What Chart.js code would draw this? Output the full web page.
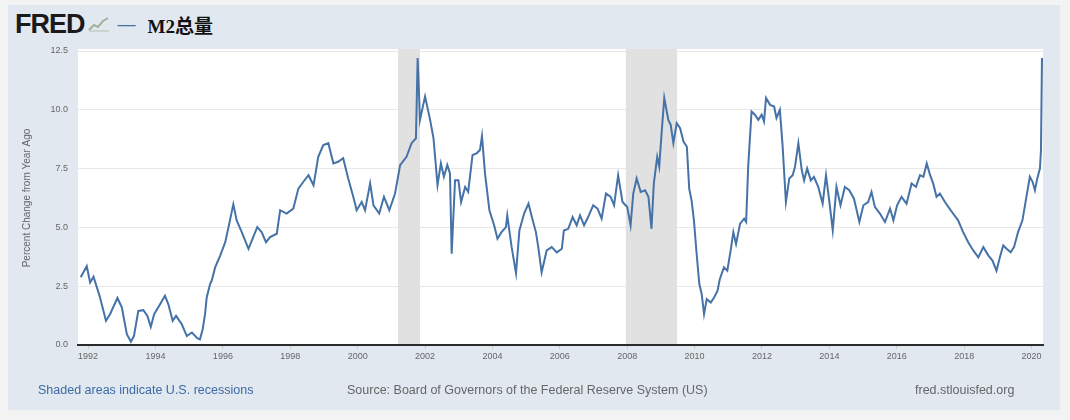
<!DOCTYPE html>
<html>
<head>
<meta charset="utf-8">
<script src="https://cdn.jsdelivr.net/npm/chart.js@4.4.1/dist/chart.umd.min.js"></script>
<style>
  html, body { margin: 0; padding: 0; background: #f3f3f3; width: 1070px; height: 420px; overflow: hidden; }
  #panel { position: absolute; left: 8px; top: 5px; width: 1052px; height: 405px; background: #e1e8f0; }
  #chartWrap { position: absolute; left: 0; top: 0; width: 1070px; height: 420px; }
  .head { position: absolute; top: 9px; left: 15px; height: 30px; display: flex; align-items: center; }
  .logo { font-family: "Liberation Sans", Arial, sans-serif; font-weight: 900; font-size: 27px; color: #1a1a1a; letter-spacing: -1px; }
  .dash { font-family: "Liberation Sans", Arial, sans-serif; color: #4572a7; font-size: 18px; margin-left: 8px; }
  .title { font-family: "Liberation Serif", "Noto Sans CJK SC", serif; font-weight: bold; font-size: 19px; color: #111; margin-left: 12px; }
  .foot { position: absolute; top: 383px; font-family: "Liberation Sans", Arial, sans-serif; font-size: 12.5px; color: #666; white-space: nowrap; }
</style>
</head>
<body>
<div id="panel"></div>
<div class="head">
  <span class="logo">FRED</span>
  <svg width="22" height="16" viewBox="0 0 22 16" style="margin-left:3px">
    <polyline points="1,14 6,9 10,11 15,5 20,2" fill="none" stroke="#9fb59a" stroke-width="2"/>
    <polyline points="1,15 21,15" stroke="#b5c2b0" stroke-width="1"/>
  </svg>
  <span class="dash">—</span>
  <span class="title">M2总量</span>
</div>
<div id="chartWrap"><canvas id="chart" width="1070" height="420"></canvas></div>
<div class="foot" style="left:38px;color:#3b6aa6;">Shaded areas indicate U.S. recessions</div>
<div class="foot" style="left:347px;">Source: Board of Governors of the Federal Reserve System (US)</div>
<div class="foot" style="left:915px;">fred.stlouisfed.org</div>
<script>
// decimal years and % change from year ago
const dates = [
  1991.78, 1991.96, 1992.06, 1992.16, 1992.34, 1992.53, 1992.65, 1992.87, 1993.00, 1993.15,
  1993.27, 1993.36, 1993.49, 1993.64, 1993.76, 1993.86, 1993.96, 1994.14, 1994.28, 1994.38,
  1994.51, 1994.61, 1994.78, 1994.93, 1995.08, 1995.24, 1995.32, 1995.40, 1995.47, 1995.52,
  1995.62, 1995.67, 1995.77, 1995.92, 1996.07, 1996.21, 1996.31, 1996.41, 1996.56, 1996.76,
  1996.90, 1997.02, 1997.15, 1997.28, 1997.40, 1997.60, 1997.70, 1997.89, 1998.09, 1998.24,
  1998.39, 1998.54, 1998.69, 1998.83, 1998.98, 1999.13, 1999.28, 1999.42, 1999.57, 1999.72,
  1999.87, 1999.97, 2000.12, 2000.22, 2000.37, 2000.47, 2000.64, 2000.78, 2000.94, 2001.11,
  2001.26, 2001.45, 2001.60, 2001.73, 2001.78, 2001.85, 2002.00, 2002.15, 2002.25, 2002.37,
  2002.47, 2002.56, 2002.66, 2002.74, 2002.79, 2002.89, 2002.99, 2003.07, 2003.19, 2003.28,
  2003.41, 2003.53, 2003.63, 2003.69, 2003.78, 2003.91, 2004.05, 2004.15, 2004.27, 2004.40,
  2004.44, 2004.57, 2004.70, 2004.80, 2004.94, 2005.07, 2005.17, 2005.29, 2005.36, 2005.46,
  2005.61, 2005.76, 2005.91, 2006.06, 2006.12, 2006.25, 2006.38, 2006.50, 2006.60, 2006.72,
  2006.84, 2006.99, 2007.12, 2007.24, 2007.37, 2007.51, 2007.61, 2007.73, 2007.86, 2008.00,
  2008.10, 2008.18, 2008.28, 2008.40, 2008.53, 2008.63, 2008.72, 2008.79, 2008.89, 2008.95,
  2009.02, 2009.10, 2009.22, 2009.29, 2009.37, 2009.47, 2009.57, 2009.67, 2009.77, 2009.84,
  2009.91, 2009.98, 2010.06, 2010.14, 2010.21, 2010.28, 2010.36, 2010.48, 2010.58, 2010.68,
  2010.75, 2010.87, 2010.97, 2011.07, 2011.15, 2011.23, 2011.35, 2011.47, 2011.53, 2011.59,
  2011.69, 2011.79, 2011.89, 2011.99, 2012.06, 2012.12, 2012.24, 2012.36, 2012.43, 2012.53,
  2012.61, 2012.71, 2012.81, 2012.91, 2012.98, 2013.08, 2013.18, 2013.25, 2013.34, 2013.45,
  2013.54, 2013.67, 2013.80, 2013.90, 2014.00, 2014.10, 2014.21, 2014.33, 2014.46, 2014.59,
  2014.73, 2014.89, 2015.01, 2015.15, 2015.25, 2015.35, 2015.50, 2015.65, 2015.80, 2015.90,
  2016.01, 2016.14, 2016.29, 2016.44, 2016.57, 2016.69, 2016.79, 2016.89, 2016.99, 2017.08,
  2017.18, 2017.28, 2017.43, 2017.53, 2017.67, 2017.82, 2017.97, 2018.12, 2018.27, 2018.42,
  2018.57, 2018.72, 2018.84, 2018.96, 2019.06, 2019.16, 2019.26, 2019.38, 2019.48, 2019.60,
  2019.73, 2019.83, 2019.95, 2020.03, 2020.10, 2020.17, 2020.25, 2020.28, 2020.31
];
const values = [
  2.88, 3.35, 2.66, 2.90, 2.09, 1.03, 1.31, 2.00, 1.60, 0.46,
  0.14, 0.38, 1.45, 1.48, 1.24, 0.77, 1.31, 1.74, 2.09, 1.74,
  1.03, 1.24, 0.88, 0.38, 0.53, 0.29, 0.24, 0.67, 1.31, 2.02,
  2.59, 2.74, 3.30, 3.80, 4.37, 5.30, 5.98, 5.30, 4.80, 4.09,
  4.59, 5.01, 4.80, 4.37, 4.59, 4.73, 5.73, 5.59, 5.80, 6.65,
  6.94, 7.22, 6.79, 8.00, 8.50, 8.58, 7.72, 7.79, 7.94, 7.08,
  6.30, 5.73, 6.08, 5.73, 6.87, 5.94, 5.59, 6.30, 5.73, 6.44,
  7.65, 8.00, 8.58, 8.79, 12.20, 9.57, 10.57, 9.57, 8.80, 6.80,
  7.72, 7.15, 7.65, 7.29, 3.88, 7.00, 7.00, 6.08, 6.72, 6.51,
  8.08, 8.15, 8.29, 8.89, 7.29, 5.73, 5.09, 4.52, 4.80, 5.01,
  5.51, 4.16, 3.05, 4.87, 5.59, 6.01, 5.44, 4.80, 4.16, 3.09,
  4.02, 4.16, 3.94, 4.09, 4.87, 4.94, 5.44, 5.09, 5.51, 5.09,
  5.44, 5.94, 5.80, 5.37, 6.44, 6.30, 5.94, 7.22, 6.08, 5.87,
  5.09, 6.44, 7.08, 6.51, 6.58, 6.30, 4.94, 6.87, 8.00, 7.58,
  9.00, 10.50, 9.57, 9.36, 8.58, 9.43, 9.22, 8.65, 8.43, 6.65,
  6.15, 5.30, 3.88, 2.59, 2.17, 1.31, 1.95, 1.81, 2.02, 2.31,
  2.81, 3.30, 3.16, 4.02, 4.80, 4.30, 5.16, 5.37, 5.23, 7.58,
  9.93, 9.79, 9.57, 9.79, 9.50, 10.50, 10.21, 10.14, 9.65, 10.00,
  8.50, 6.08, 7.08, 7.22, 7.58, 8.58, 7.44, 7.00, 7.51, 7.00,
  7.15, 6.72, 6.01, 7.22, 6.08, 4.87, 6.72, 5.94, 6.72, 6.58,
  6.22, 5.23, 5.94, 6.08, 6.51, 5.87, 5.59, 5.23, 5.80, 5.30,
  5.94, 6.30, 6.01, 6.87, 6.72, 7.22, 7.15, 7.72, 7.22, 6.87,
  6.30, 6.44, 6.08, 5.87, 5.59, 5.30, 4.80, 4.37, 4.02, 3.73,
  4.16, 3.80, 3.59, 3.16, 3.73, 4.23, 4.09, 3.94, 4.16, 4.80,
  5.30, 6.15, 7.15, 6.94, 6.58, 7.08, 7.51, 8.29, 12.20
];
const tickYears = [1992, 1994, 1996, 1998, 2000, 2002, 2004, 2006, 2008, 2010, 2012, 2014, 2016, 2018, 2020];
const recessionStarts = [2001.20, 2007.96];
const recessionEnds = [2001.85, 2009.48];

const plotBackground = {
  id: "plotBackground",
  beforeDraw(chart) {
    const { ctx, chartArea: a } = chart;
    ctx.save();
    ctx.fillStyle = "#ffffff";
    ctx.fillRect(a.left, a.top - 2, a.right - a.left, a.bottom - a.top + 2);
    ctx.restore();
  },
};

const recessionBands = {
  id: "recessionBands",
  beforeDatasetsDraw(chart) {
    const { ctx, chartArea: a, scales } = chart;
    ctx.save();
    ctx.fillStyle = "#e1e1e1";
    recessionStarts.forEach((start, i) => {
      const x0 = scales.x.getPixelForValue(start);
      const x1 = scales.x.getPixelForValue(recessionEnds[i]);
      ctx.fillRect(x0, a.top - 2, x1 - x0, a.bottom - a.top + 1);
    });
    ctx.restore();
  },
};

new Chart(document.getElementById("chart"), {
  type: "line",
  data: {
    datasets: [
      {
        label: "M2",
        data: dates.map((d, i) => ({ x: d, y: values[i] })),
        borderColor: "#4572a7",
        borderWidth: 2,
        pointRadius: 0,
        tension: 0,
        fill: false,
      },
    ],
  },
  options: {
    responsive: false,
    animation: false,
    devicePixelRatio: 1,
    layout: { padding: { left: 8, right: 27, top: 51, bottom: 55 } },
    plugins: { legend: { display: false }, tooltip: { enabled: false } },
    scales: {
      x: {
        type: "linear",
        min: 1991.70,
        max: 2020.34,
        afterBuildTicks: (scale) => {
          scale.ticks = tickYears.map((v) => ({ value: v }));
        },
        afterFit: (scale) => {
          scale.height = 20;
        },
        grid: { drawOnChartArea: false, tickLength: 4, color: "#c8c8c8" },
        border: { color: "#2b2b2b", width: 2 },
        ticks: {
          autoSkip: false,
          maxRotation: 0,
          padding: 2,
          color: "#666",
          font: { family: "Liberation Sans", size: 9 },
          callback: (v) => String(v),
        },
      },
      y: {
        min: 0,
        max: 12.5,
        afterFit: (scale) => {
          scale.width = 70;
        },
        grid: { color: "#e8e8e8", drawTicks: false },
        border: { display: false },
        ticks: {
          stepSize: 2.5,
          padding: 10,
          color: "#666",
          font: { family: "Liberation Sans", size: 9 },
          callback: (v) => v.toFixed(1),
        },
        title: {
          display: true,
          text: "Percent Change from Year Ago",
          color: "#666",
          font: { family: "Liberation Sans", size: 10 },
          padding: { top: 13, bottom: 0 },
        },
      },
    },
  },
  plugins: [plotBackground, recessionBands],
});
</script>
</body>
</html>
